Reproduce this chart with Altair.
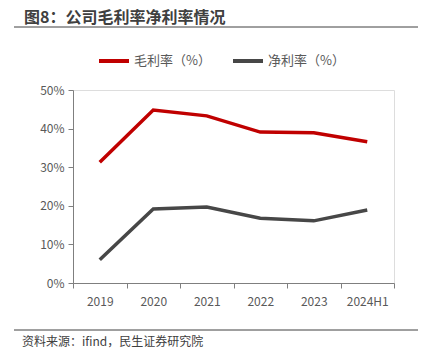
import altair as alt
import pandas as pd

years = ["2019", "2020", "2021", "2022", "2023", "2024H1"]
gross = [31.3, 44.8, 43.3, 39.1, 38.9, 36.6]
net = [6.0, 19.2, 19.7, 16.8, 16.1, 18.9]
series_names = ["毛利率（%）", "净利率（%）"]
colors = ["#C00000", "#474747"]

rows = []
for y, g, n in zip(years, gross, net):
    rows.append({"year": y, "series": series_names[0], "value": g / 100})
    rows.append({"year": y, "series": series_names[1], "value": n / 100})
df = pd.DataFrame(rows)

FONT = "Noto Sans CJK SC"
W, H = 321, 193

lines = alt.Chart(df).mark_line(strokeWidth=3.5).encode(
    x=alt.X("year:N", sort=years, title=None,
            scale=alt.Scale(paddingInner=0, paddingOuter=0),
            axis=alt.Axis(labelAngle=0, labelFont=FONT, labelFontSize=12, labelColor="#595959",
                          domainColor="#7f7f7f", tickColor="#7f7f7f", tickBand="extent",
                          tickSize=5, labelPadding=8, grid=False, domainWidth=1)),
    y=alt.Y("value:Q", title=None,
            scale=alt.Scale(domain=[0, 0.5]),
            axis=alt.Axis(format=".0%", values=[0, 0.1, 0.2, 0.3, 0.4, 0.5], labelFont=FONT,
                          labelFontSize=12, labelColor="#595959", domainColor="#7f7f7f",
                          tickColor="#7f7f7f", tickSize=5, labelPadding=4, grid=False)),
    color=alt.Color("series:N", sort=series_names,
                    scale=alt.Scale(domain=series_names, range=colors),
                    legend=alt.Legend(title=None, orient="none", direction="horizontal",
                                      legendX=24, legendY=-46, symbolType="stroke",
                                      symbolStrokeWidth=4, symbolSize=900, columnPadding=14,
                                      labelFont=FONT, labelFontSize=13, labelColor="#595959",
                                      labelOffset=3)),
)

title = alt.Chart(pd.DataFrame({"t": ["图8：公司毛利率净利率情况"]})).mark_text(
    align="left", baseline="middle", font=FONT, fontSize=16, fontWeight="bold", color="#404040"
).encode(text="t:N", x=alt.value(-49), y=alt.value(-72))

footer = alt.Chart(pd.DataFrame({"t": ["资料来源：ifind，民生证券研究院"]})).mark_text(
    align="left", baseline="middle", font=FONT, fontSize=12, color="#404040"
).encode(text="t:N", x=alt.value(-51), y=alt.value(252))

rule_top = alt.Chart(pd.DataFrame({"a": [0]})).mark_rule(color="#404040", strokeWidth=1).encode(
    x=alt.value(-59), x2=alt.value(348), y=alt.value(-63))
rule_bot = alt.Chart(pd.DataFrame({"a": [0]})).mark_rule(color="#404040", strokeWidth=1).encode(
    x=alt.value(-59), x2=alt.value(348), y=alt.value(240))

chart = alt.layer(lines, title, footer, rule_top, rule_bot).properties(
    width=W, height=H,
    autosize=alt.AutoSizeParams(type="none"),
    padding={"left": 65, "top": 82, "right": 24, "bottom": 72},
).configure_view(stroke=None).configure(background="white")

chart.save("out.html", embed_options={"renderer": "svg", "actions": False})
